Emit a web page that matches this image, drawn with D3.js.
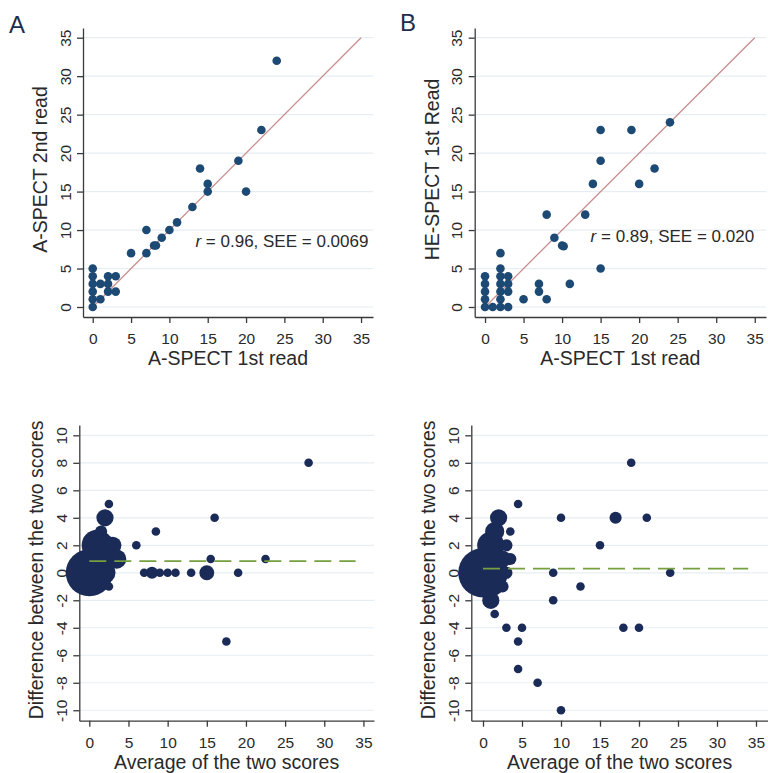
<!DOCTYPE html>
<html>
<head>
<meta charset="utf-8">
<script src="https://cdn.jsdelivr.net/npm/d3@7"></script>
<style>
  body { margin: 0; background: #fff; }
  svg { display: block; font-family: 'Liberation Sans', Arial, sans-serif; }
</style>
</head>
<body>
<svg id="fig" width="768" height="773"></svg>
<script>
// ---- data ----
// A: A-SPECT 1st read vs 2nd read
var aFirst  = [0, 0, 0, 0, 0, 0, 1, 1, 2, 2, 2, 3, 3, 5, 7, 7, 8, 8.25, 9, 10, 11, 13, 14, 15, 15, 19, 20, 22, 24]
var aSecond = [0, 1, 2, 3, 4, 5, 1, 3, 2, 3, 4, 2, 4, 7, 7, 10, 8, 8, 9, 10, 11, 13, 18, 15, 16, 19, 15, 23, 32]
// B: A-SPECT 1st read vs HE-SPECT 1st read
var bAspect  = [0, 0, 0, 0, 0, 1, 2, 2, 2, 2, 2, 2, 2, 3, 3, 3, 3, 5, 7, 7, 8, 8, 9, 10, 10.2, 11, 13, 14, 15, 15, 15, 19, 20, 22, 24]
var bHespect = [0, 1, 2, 3, 4, 0, 0, 1, 2, 3, 4, 5, 7, 0, 2, 3, 4, 1, 2, 3, 1, 12, 9, 8, 7.9, 3, 12, 16, 5, 19, 23, 23, 16, 18, 24]

// Bland-Altman (average, difference, number of identical pairs -> bubble size)
var baAvgA   = [0, 0.5, 1, 1, 1.5, 2, 2.5, 2, 2, 2.5, 3, 2.5, 3.5, 6, 7, 8, 8.5, 9, 10, 11, 13, 15, 15.5, 16, 17.5, 19, 22.5, 28]
var baDiffA  = [0, 1, 0, 2, 3, 4, 5, 2, 0, 1, 2, -1, 1, 2, 0, 0, 3, 0, 0, 0, 0, 0, 1, 4, -5, 0, 1, 8]
var baCountA = [30, 10, 8, 13, 2, 4, 1, 6, 6, 6, 4, 1, 5, 1, 1, 2, 1, 1, 1, 1, 1, 3, 1, 1, 1, 1, 1, 1]

var baAvgB   = [0, 0.5, 1, 1.5, 2, 0.5, 1, 1.5, 2, 2.5, 3, 3.5, 4.5, 1.5, 2.5, 3, 3.5, 3, 4.5, 5, 4.5, 10, 9, 9, 7, 12.5, 15, 10, 17, 19, 21, 18, 20, 24]
var baDiffB  = [0, 1, 2, 3, 4, -1, -2, -1, 0, 1, 2, 3, 5, -3, -1, 0, 1, -4, -5, -4, -7, 4, 0, -2, -8, -1, 2, -10, 4, 8, 4, -4, -4, 0]
var baCountB = [33, 9, 10, 5, 4, 6, 4, 4, 5, 4, 2, 1, 1, 1, 2, 2, 2, 1, 1, 1, 1, 1, 1, 1, 1, 1, 1, 1, 2, 1, 1, 1, 1, 1]

var meanDiff = [0.85, 0.3]          // mean difference, panels C and D
var meanSpan = [0, 34]              // extent of the dashed mean line
var statsR   = ['0.96', '0.89']
var statsSEE = ['0.0069', '0.020']
var statsAt  = [[13.4, 7.8], [13.7, 8.5]]

var xTicks = [0, 5, 10, 15, 20, 25, 30, 35]
var yTicksScatter = [0, 5, 10, 15, 20, 25, 30, 35]
var yTicksBA = [-10, -8, -6, -4, -2, 0, 2, 4, 6, 8, 10]

// ---- layout ----
var panels = [
  {l: 83, r: 373, t: 28, b: 317, xDom: [-1.27, 36.56], yDom: [-1.3, 36.26], yTicks: yTicksScatter,
    xTitle: 'A-SPECT 1st read', yTitle: 'A-SPECT 2nd read', letter: 'A', letterX: 9, letterY: 33},
  {l: 474.7, r: 766, t: 28, b: 317, xDom: [-1.34, 36.46], yDom: [-1.3, 36.26], yTicks: yTicksScatter,
    xTitle: 'A-SPECT 1st read', yTitle: 'HE-SPECT 1st Read', letter: 'B', letterX: 400, letterY: 31},
  {l: 79.3, r: 374, t: 425, b: 720.7, xDom: [-1.28, 36.35], yDom: [-10.76, 10.75], yTicks: yTicksBA,
    xTitle: 'Average of the two scores', yTitle: 'Difference between the two scores'},
  {l: 471.3, r: 768, t: 425, b: 720.7, xDom: [-1.5, 36.54], yDom: [-10.76, 10.75], yTicks: yTicksBA,
    xTitle: 'Average of the two scores', yTitle: 'Difference between the two scores'}
]

var axisColor = '#3a3a3a'
var textColor = '#2a2a2a'
var gridColor = '#e6eef3'
var dotTop = '#1c4a74'
var dotBottom = '#1b2b58'

var svg = d3.select('#fig')
svg.append('rect').attr('width', 768).attr('height', 773).attr('fill', '#fff')

function frame(p){
  var g = svg.append('g')
  var x = d3.scaleLinear().domain(p.xDom).range([p.l, p.r])
  var y = d3.scaleLinear().domain(p.yDom).range([p.b, p.t])

  // horizontal grid
  g.append('g').selectAll('line').data(p.yTicks).join('line')
    .attr('x1', p.l).attr('x2', p.r)
    .attr('y1', function(d){ return y(d) }).attr('y2', function(d){ return y(d) })
    .attr('stroke', gridColor).attr('stroke-width', 1.2)

  var ya = g.append('g').attr('transform', 'translate(' + p.l + ',0)')
    .call(d3.axisLeft(y).tickValues(p.yTicks).tickSize(6).tickSizeOuter(0)
      .tickFormat(function(d){ return String(d) }))
  ya.selectAll('.tick text').attr('x', null).attr('dy', null)
    .attr('transform', 'translate(-12.5,0) rotate(-90)').attr('text-anchor', 'middle')

  var xa = g.append('g').attr('transform', 'translate(0,' + p.b + ')')
    .call(d3.axisBottom(x).tickValues(xTicks).tickSize(6).tickSizeOuter(0)
      .tickFormat(function(d){ return String(d) }))
  xa.selectAll('.tick text').attr('y', 27).attr('dy', null)

  ;[ya, xa].forEach(function(a){
    a.attr('font-family', null).attr('font-size', 15.5).style('color', axisColor)
    a.selectAll('path, line').attr('stroke-width', 1.3)
    a.selectAll('text').attr('fill', textColor)
  })

  g.append('text').text(p.xTitle)
    .attr('x', (p.l + p.r) / 2).attr('y', p.b + 48)
    .attr('text-anchor', 'middle').attr('font-size', 19.5).attr('fill', textColor)
  g.append('text').text(p.yTitle)
    .attr('transform', 'translate(' + (p.l - 36) + ',' + ((p.t + p.b) / 2 - 3) + ') rotate(-90)')
    .attr('text-anchor', 'middle').attr('font-size', 19.5).attr('fill', textColor)

  if (p.letter){
    svg.append('text').text(p.letter)
      .attr('x', p.letterX).attr('y', p.letterY)
      .attr('font-size', 24).attr('fill', '#1f2d4d')
  }
  return {g: g, x: x, y: y}
}

// ---- scatter panels ----
function scatter(p, xs, ys, k){
  var f = frame(p)
  f.g.append('line')
    .attr('x1', f.x(0)).attr('y1', f.y(0)).attr('x2', f.x(35)).attr('y2', f.y(35))
    .attr('stroke', '#c68e8e').attr('stroke-width', 1.3)
  f.g.append('g').selectAll('circle').data(xs).join('circle')
    .attr('cx', function(d){ return f.x(d) })
    .attr('cy', function(d, i){ return f.y(ys[i]) })
    .attr('r', 4.3).attr('fill', dotTop)
  var t = f.g.append('text')
    .attr('x', f.x(statsAt[k][0])).attr('y', f.y(statsAt[k][1]))
    .attr('font-size', 17).attr('fill', textColor)
  t.append('tspan').text('r').attr('font-style', 'italic')
  t.append('tspan').text(' = ' + statsR[k] + ', SEE = ' + statsSEE[k])
}

// ---- Bland-Altman panels ----
var rScale = d3.scaleSqrt().domain([0, 1]).range([0, 4.3])
function blandAltman(p, avg, diff, cnt, k){
  var f = frame(p)
  f.g.append('g').selectAll('circle').data(avg).join('circle')
    .attr('cx', function(d){ return f.x(d) })
    .attr('cy', function(d, i){ return f.y(diff[i]) })
    .attr('r', function(d, i){ return rScale(cnt[i]) })
    .attr('fill', dotBottom)
  f.g.append('line')
    .attr('x1', f.x(meanSpan[0])).attr('x2', f.x(meanSpan[1]))
    .attr('y1', f.y(meanDiff[k])).attr('y2', f.y(meanDiff[k]))
    .attr('stroke', '#76a040').attr('stroke-width', 1.6).attr('stroke-dasharray', '17,8')
}

scatter(panels[0], aFirst, aSecond, 0)
scatter(panels[1], bAspect, bHespect, 1)
blandAltman(panels[2], baAvgA, baDiffA, baCountA, 0)
blandAltman(panels[3], baAvgB, baDiffB, baCountB, 1)
</script>
</body>
</html>
